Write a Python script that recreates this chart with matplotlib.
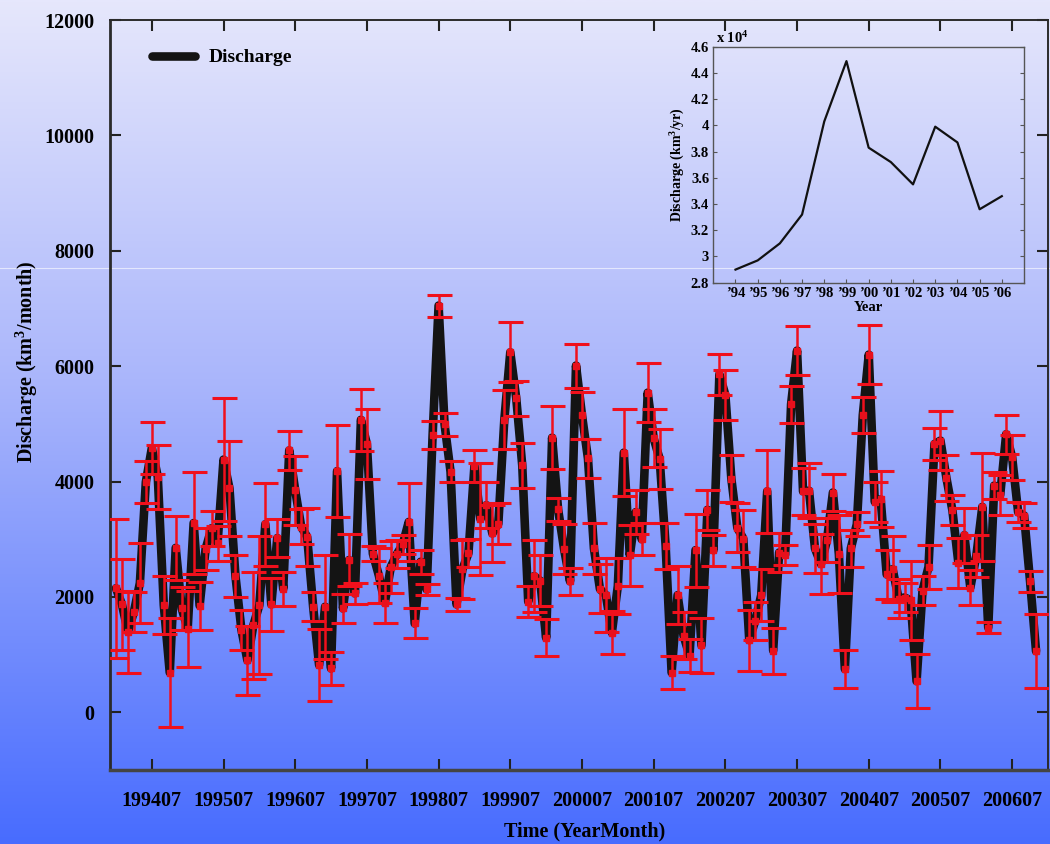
import numpy as np
import matplotlib
matplotlib.use("Agg")
import matplotlib.pyplot as plt
from matplotlib.colors import LinearSegmentedColormap

# ---------------- data ----------------
# monthly discharge (km^3/month), Jan 1994 .. Nov 2006
discharge = [
    2150, 1870, 1400, 1740, 2240, 3990, 4580, 4080, 1860, 690,
    2850, 1800, 1450, 3280, 1850, 2830, 3190, 2930, 4380, 3880,
    2360, 1430, 900, 1510, 1860, 3260, 1870, 3020, 2140, 4540,
    3850, 3220, 3040, 1830, 820, 1830, 760, 4180, 1800, 2640,
    2060, 5070, 4650, 2750, 2370, 1900, 2520, 2740, 2910, 3300,
    1540, 2610, 2130, 4810, 7050, 4990, 4170, 1870, 2480, 2760,
    4270, 3350, 3590, 3100, 3270, 5070, 6240, 5440, 4280, 1920,
    2360, 2280, 1290, 4760, 3520, 2830, 2270, 6010, 5150, 4400,
    2840, 2140, 2030, 1380, 2190, 4500, 2720, 3470, 3000, 5540,
    4750, 4390, 2890, 690, 2030, 1330, 980, 2810, 1160, 3510,
    2810, 5860, 5500, 4050, 3200, 3010, 1250, 1590, 2030, 3830,
    1070, 2770, 2730, 5340, 6270, 3830, 3840, 2840, 2570, 2980,
    3810, 2740, 750, 2840, 3260, 5150, 6200, 3650, 3690, 2390,
    2480, 1970, 1990, 1940, 540, 2110, 2520, 4650, 4710, 4060,
    3500, 2590, 3070, 2160, 2710, 3560, 1470, 3930, 3770, 4820,
    4420, 3470, 3410, 2270, 1060,
]
errors = [
    1200, 790, 710, 350, 690, 360, 450, 550, 510, 940,
    560, 380, 660, 880, 415, 360, 300, 300, 1070, 820,
    360, 350, 600, 930, 1190, 720, 460, 330, 300, 340,
    600, 300, 500, 250, 620, 900, 280, 800, 250, 450,
    190, 540, 600, 125, 480, 350, 450, 240, 160, 670,
    260, 210, 100, 240, 190, 200, 180, 120, 510, 240,
    280, 970, 400, 500, 360, 510, 520, 300, 390, 275,
    620, 440, 320, 550, 200, 440, 240, 380, 410, 340,
    450, 425, 640, 370, 480, 750, 530, 385, 280, 510,
    500, 515, 400, 285, 500, 410, 285, 630, 470, 345,
    270, 355, 440, 410, 425, 490, 530, 330, 455, 720,
    400, 340, 175, 320, 430, 410, 475, 430, 525, 380,
    325, 680, 325, 320, 210, 310, 510, 350, 485, 420,
    570, 340, 255, 690, 470, 250, 375, 285, 505, 400,
    260, 435, 480, 300, 360, 930, 90, 240, 345, 340,
    390, 170, 215, 180, 640,
]
tick_labels = ["199407", "199507", "199607", "199707", "199807", "199907",
               "200007", "200107", "200207", "200307", "200407", "200507",
               "200607"]
y_ticks = [0, 2000, 4000, 6000, 8000, 10000, 12000]

years = [1994, 1995, 1996, 1997, 1998, 1999, 2000, 2001, 2002, 2003,
         2004, 2005, 2006]
annual = [2.90, 2.97, 3.10, 3.32, 4.03, 4.49, 3.83, 3.72, 3.55, 3.99,
          3.87, 3.36, 3.46]          # x 10^4 km^3/yr
inset_yticks = [2.8, 3.0, 3.2, 3.4, 3.6, 3.8, 4.0, 4.2, 4.4, 4.6]
inset_ylabels = ["2.8", "3", "3.2", "3.4", "3.6", "3.8", "4", "4.2", "4.4", "4.6"]
inset_xlabels = ["\u201994", "\u201995", "\u201996", "\u201997", "\u201998",
                 "\u201999", "\u201900", "\u201901", "\u201902", "\u201903",
                 "\u201904", "\u201905", "\u201906"]

# ---------------- style ----------------
FONT = "Liberation Serif"
plt.rcParams["font.family"] = [FONT, "DejaVu Serif"]
plt.rcParams["font.weight"] = "bold"
plt.rcParams["mathtext.fontset"] = "custom"
plt.rcParams["mathtext.rm"] = FONT
plt.rcParams["mathtext.bf"] = FONT + ":bold"
plt.rcParams["mathtext.default"] = "bf"

W, H = 1050, 844
fig = plt.figure(figsize=(W / 100, H / 100), dpi=100)

# background gradient
bg = fig.add_axes([0, 0, 1, 1], zorder=-10)
cmap = LinearSegmentedColormap.from_list(
    "bg", [(0.0, (230/255, 231/255, 252/255)),
           (0.45, (170/255, 182/255, 251/255)),
           (1.0, (72/255, 108/255, 255/255))])
grad = np.linspace(0, 1, 512).reshape(-1, 1)
bg.imshow(grad, aspect="auto", cmap=cmap, extent=[0, 1, 0, 1], origin="upper")
bg.axhline(1 - 268 / H, color="white", lw=0.8, alpha=0.6)
bg.set_xlim(0, 1)
bg.set_ylim(0, 1)
bg.axis("off")

# ---------------- main axes ----------------
ax = fig.add_axes([110 / W, 1 - 770 / H, 938 / W, 750 / H])
ax.patch.set_alpha(0)

x = np.arange(len(discharge))
ax.plot(x, discharge, color="#141414", lw=6.2, solid_joinstyle="round",
        solid_capstyle="round", zorder=2, label="Discharge")
ax.errorbar(x, discharge, yerr=errors, fmt="none", ecolor="#f0101c",
            elinewidth=1.8, capsize=9, capthick=2.2, zorder=3)
ax.plot(x, discharge, "s", color="#e8101c", ms=4.5, zorder=4)

ax.set_xlim(-1, 156)
ax.set_ylim(-1000, 12000)
ax.set_xticks(np.arange(6, 6 + 12 * len(tick_labels), 12))
ax.set_xticklabels(tick_labels)
ax.set_yticks(y_ticks)
ax.set_yticklabels([str(v) for v in y_ticks])
ax.tick_params(axis="both", direction="in", length=8, width=1.5,
               labelsize=14.5, top=True, right=True, color="#222222")
ax.tick_params(axis="x", pad=15)
ax.tick_params(axis="y", pad=11)
for lab in ax.get_xticklabels() + ax.get_yticklabels():
    lab.set_fontweight("bold")
for s in ax.spines.values():
    s.set_color("#2a2a2a")
    s.set_linewidth(1.4)
ax.spines["bottom"].set_linewidth(2.5)
ax.spines["bottom"].set_color("#444444")
ax.spines["left"].set_linewidth(2.0)

ax.set_xlabel("Time (YearMonth)", fontsize=14.5, fontweight="bold")
ax.set_ylabel("Discharge (km$^3$/month)", fontsize=14.5, fontweight="bold")
ax.xaxis.set_label_coords(0.506, -0.068)
ax.yaxis.set_label_coords(-0.075, 0.545)

leg = ax.legend(loc="upper left", bbox_to_anchor=(0.026, 0.985), frameon=False,
                fontsize=14, handlelength=2.2, handletextpad=0.7)
for t in leg.get_texts():
    t.set_fontweight("bold")

# ---------------- inset ----------------
ins = fig.add_axes([713.3 / W, 1 - 282.7 / H, 310.7 / W, 236 / H])
ins.patch.set_alpha(0)
ins.plot(years, annual, color="#111111", lw=1.6)
ins.set_xlim(1993, 2007)
ins.set_ylim(2.8, 4.6)
ins.set_xticks(years)
ins.set_xticklabels(inset_xlabels)
ins.set_yticks(inset_yticks)
ins.set_yticklabels(inset_ylabels)
ins.tick_params(axis="both", direction="in", length=3, width=0.8,
                labelsize=10.5, top=False, right=True, pad=3, color="#555555")
for lab in ins.get_xticklabels() + ins.get_yticklabels():
    lab.set_fontweight("bold")
for s in ins.spines.values():
    s.set_color("#555555")
    s.set_linewidth(1.0)
ins.set_xlabel("Year", fontsize=10.5, fontweight="bold", labelpad=1)
ins.set_ylabel("Discharge (km$^3$/yr)", fontsize=10, fontweight="bold", labelpad=3)
ins.text(0.01, 1.005, "x 10$^4$", transform=ins.transAxes, fontsize=10.5,
         fontweight="bold", ha="left", va="bottom")

fig.savefig("out.png", dpi=100)
